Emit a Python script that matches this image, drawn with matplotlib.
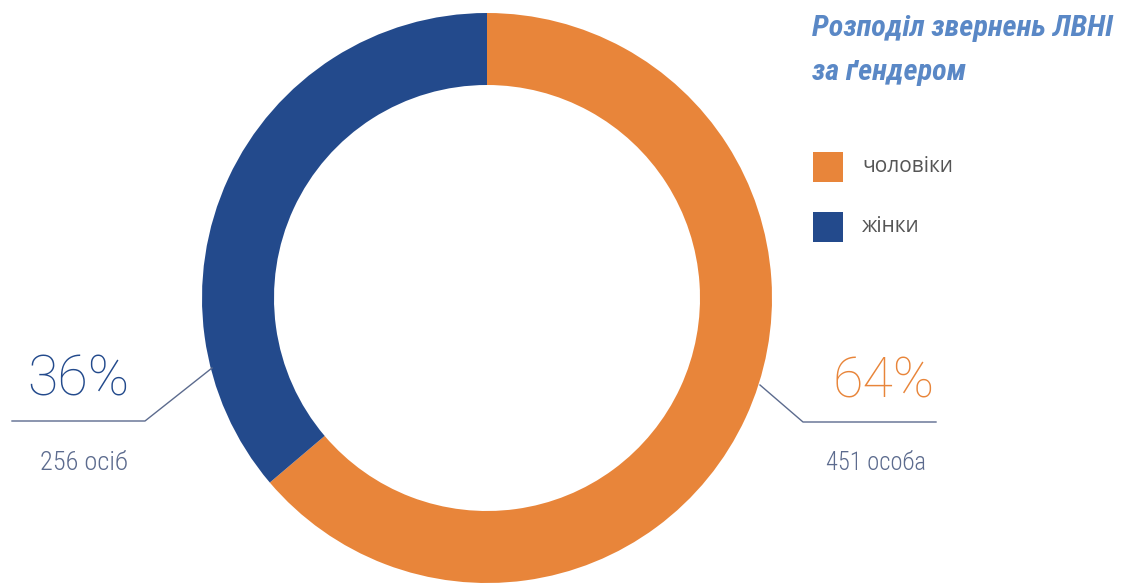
import matplotlib.pyplot as plt
from matplotlib import font_manager

# дані
labels = ["чоловіки", "жінки"]
counts = [451, 256]
captions = ["451 особа", "256 осіб"]
colors = ["#E8853A", "#234A8C"]

W, H = 1126, 583
fig = plt.figure(figsize=(W / 100, H / 100), dpi=100)
ax = fig.add_axes([0, 0, 1, 1])
ax.axis("off")

names = {f.name for f in font_manager.fontManager.ttflist}
narrow = "DejaVu Sans"
for cand in ["Roboto Condensed", "Liberation Sans Narrow", "Open Sans Condensed"]:
    if cand in names:
        narrow = cand
        break

total = sum(counts)
pct = [round(c / total * 100) for c in counts]

# кільце
ax.pie(counts, colors=colors, startangle=90, counterclock=False,
       center=(487, H - 298), radius=285,
       wedgeprops=dict(width=72, linewidth=0))
ax.set_xlim(0, W)
ax.set_ylim(0, H)
ax.set_aspect("equal")

line_c = "#5C6B8E"
# виноски
ax.plot([760, 803, 936], [H - 385, H - 422, H - 422], color=line_c, lw=1)
ax.plot([212, 145, 12], [H - 368, H - 421, H - 421], color=line_c, lw=1)

ax.text(884, H - 382, f"{pct[0]}%", color=colors[0], fontsize=40,
        family="Roboto", weight="light", ha="center", va="center")
ax.text(78, H - 380, f"{pct[1]}%", color=colors[1], fontsize=40,
        family="Roboto", weight="light", ha="center", va="center")

renderer = fig.canvas.get_renderer()


def fit_text(x, y, s, width, size, **kw):
    # зменшує шрифт, щоб текст вліз у задану ширину в пікселях
    t = ax.text(x, y, s, fontsize=size, **kw)
    w = t.get_window_extent(renderer).width
    if w > width:
        t.set_fontsize(size * width / w)
    return t


fit_text(876, H - 463, captions[0], 100, 19, color="#5C6B8E", family=narrow,
         weight="light", ha="center", va="center")
fit_text(84, H - 463, captions[1], 88, 19, color="#5C6B8E", family=narrow,
         weight="light", ha="center", va="center")

# заголовок
title_kw = dict(color="#5A88C6", family=narrow, weight="bold", style="italic",
                ha="left", va="center")
t1 = fit_text(812, H - 28, "Розподіл звернень ЛВНІ", 300, 22, **title_kw)
ax.text(812, H - 72, "за ґендером", fontsize=t1.get_fontsize(), **title_kw)

# легенда
for i, (lab, col) in enumerate(zip(labels, colors)):
    y = H - (167 + 60 * i)
    ax.add_patch(plt.Rectangle((813, y - 15), 30, 30, color=col, lw=0))
    ax.text(862, y, lab, color="#555555", fontsize=15, family="Open Sans",
            ha="left", va="center")

fig.savefig("out.png", dpi=100)
